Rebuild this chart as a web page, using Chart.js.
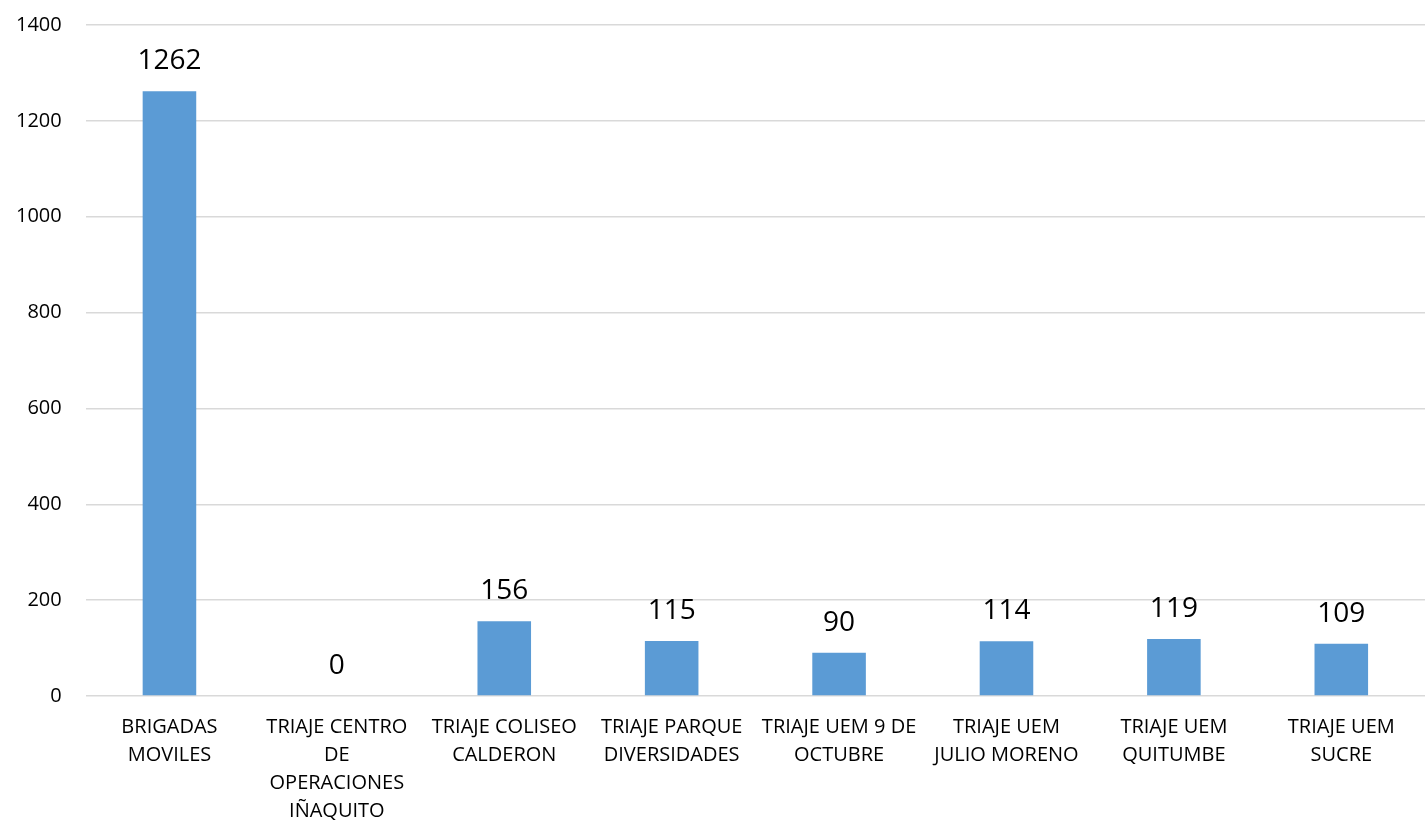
<!DOCTYPE html>
<html>
<head>
<meta charset="utf-8">
<script src="https://cdn.jsdelivr.net/npm/chart.js@4.4.1/dist/chart.umd.min.js"></script>
<style>
  html, body { margin: 0; padding: 0; background: #fff; overflow: hidden; }
  #wrap { position: relative; top: -11px; width: 1425px; height: 841px; }
</style>
</head>
<body>
<div id="wrap"><canvas id="chart"></canvas></div>
<script>
const categories = [
  ['BRIGADAS', 'MOVILES'],
  ['TRIAJE CENTRO', 'DE', 'OPERACIONES', 'IÑAQUITO'],
  ['TRIAJE COLISEO', 'CALDERON'],
  ['TRIAJE PARQUE', 'DIVERSIDADES'],
  ['TRIAJE UEM 9 DE', 'OCTUBRE'],
  ['TRIAJE UEM', 'JULIO MORENO'],
  ['TRIAJE UEM', 'QUITUMBE'],
  ['TRIAJE UEM', 'SUCRE']
];
const values = [1262, 0, 156, 115, 90, 114, 119, 109];
const yTicks = [0, 200, 400, 600, 800, 1000, 1200, 1400];

const fontFamily = "'Open Sans', 'Liberation Sans', sans-serif";

// draws the number above each bar
const valueLabels = {
  id: 'valueLabels',
  afterDatasetsDraw(chart) {
    const ctx = chart.ctx;
    const meta = chart.getDatasetMeta(0);
    ctx.save();
    ctx.font = '28px ' + fontFamily;
    ctx.fillStyle = '#000';
    ctx.textAlign = 'center';
    ctx.textBaseline = 'middle';
    meta.data.forEach((bar, i) => {
      ctx.fillText(String(values[i]), bar.x, bar.y - 30);
    });
    ctx.restore();
  }
};

new Chart(document.getElementById('chart'), {
  type: 'bar',
  data: {
    labels: categories,
    datasets: [{
      data: values,
      backgroundColor: '#5b9bd5',
      borderWidth: 0,
      barPercentage: 0.32,
      categoryPercentage: 1
    }]
  },
  options: {
    responsive: true,
    maintainAspectRatio: false,
    animation: false,
    layout: { padding: { left: -8, top: 2, right: 0, bottom: -12 } },
    plugins: {
      legend: { display: false },
      tooltip: { enabled: false }
    },
    scales: {
      x: {
        grid: { display: false, drawTicks: false },
        border: { display: false },
        ticks: {
          color: '#000',
          font: { family: fontFamily, size: 20, lineHeight: 28 / 20 },
          padding: 17,
          maxRotation: 0,
          autoSkip: false
        }
      },
      y: {
        min: 0,
        max: 1400,
        afterBuildTicks(axis) {
          axis.ticks = yTicks.map(v => ({ value: v }));
        },
        grid: { color: '#d9d9d9', lineWidth: 1.5, drawTicks: false },
        border: { display: false },
        ticks: {
          color: '#000',
          font: { family: fontFamily, size: 20 },
          padding: 24,
          callback: v => String(v)
        }
      }
    }
  },
  plugins: [valueLabels]
});
</script>
</body>
</html>
